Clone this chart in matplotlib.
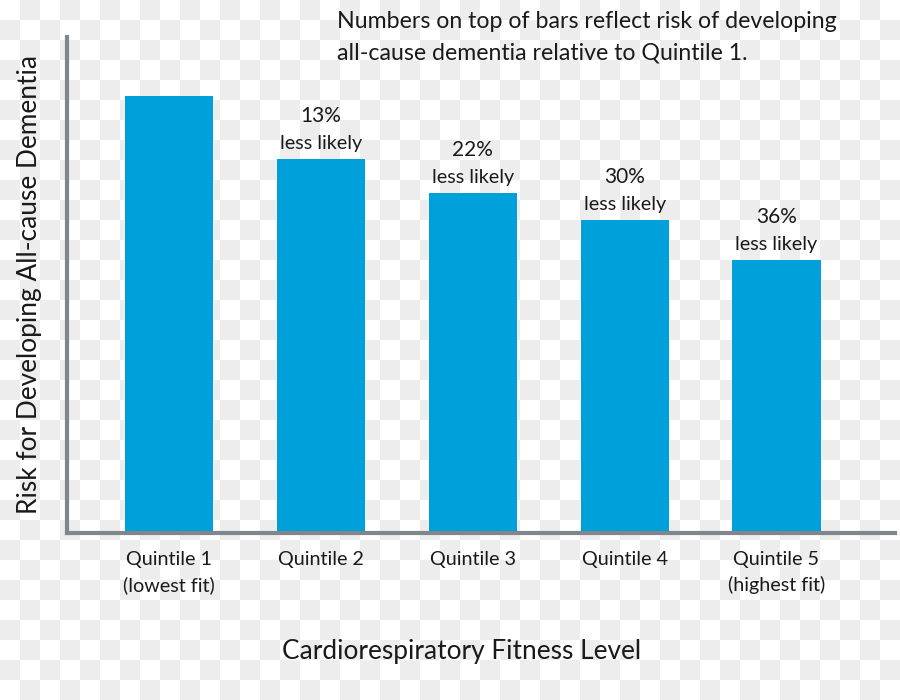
import matplotlib
matplotlib.use("Agg")
import matplotlib.pyplot as plt
import numpy as np

categories = ["Quintile 1\n(lowest fit)", "Quintile 2", "Quintile 3", "Quintile 4", "Quintile 5\n(highest fit)"]
relative_risk = [1.00, 0.855, 0.778, 0.716, 0.624]
bar_labels = ["", "13%", "22%", "30%", "36%"]

plt.rcParams['font.family'] = ['Lato', 'DejaVu Sans']

fig = plt.figure(figsize=(9, 7), dpi=100)

# checkerboard background (transparency pattern seen in reference)
bg = fig.add_axes([0, 0, 1, 1], zorder=-10)
n_x, n_y = 45, 35
cb = (np.add.outer(np.arange(n_y), np.arange(n_x)) % 2)
bg.imshow(cb, cmap=matplotlib.colors.ListedColormap(["#ffffff", "#ededed"]),
          extent=[0, 900, 700, 0], interpolation="nearest", aspect="auto")
bg.set_axis_off()

ax = fig.add_axes([67/900, 167/700, 828/900, 496/700])
ax.patch.set_alpha(0)
x = np.arange(len(categories))
ax.bar(x, relative_risk, width=0.58, color="#00a0da")
ax.set_xlim(-0.67, 4.78)
ax.set_ylim(0, 1.135)

for s in ["top", "right"]:
    ax.spines[s].set_visible(False)
for s in ["left", "bottom"]:
    ax.spines[s].set_color("#7f878c")
    ax.spines[s].set_linewidth(3)

txt = "#1a1a1a"
ax.set_yticks([])
ax.set_xticks(x)
ax.set_xticklabels(categories, fontsize=14.2, color=txt, linespacing=1.55)
ax.tick_params(axis="x", length=0, pad=13)

for xi, v, lab in zip(x, relative_risk, bar_labels):
    if lab:
        ax.annotate("less likely", (xi, v), xytext=(0, 5), textcoords="offset points",
                    ha="center", va="bottom", fontsize=14.2, color=txt)
        ax.annotate(lab, (xi, v), xytext=(0, 24), textcoords="offset points",
                    ha="center", va="bottom", fontsize=15, color=txt)

ax.set_ylabel("Risk for Developing All-cause Dementia", fontsize=18.9, color=txt)
ax.yaxis.set_label_coords((30 - 67) / 828, 0.5)
ax.yaxis.label.set_va("center")
ax.set_xlabel("Cardiorespiratory Fitness Level", fontsize=18.9, color=txt)
ax.xaxis.set_label_coords((462 - 67) / 828, -(651 - 533) / 496)
ax.xaxis.label.set_va("center")

fig.text(337/900, 1 - 22/700, "Numbers on top of bars reflect risk of developing",
         ha="left", va="center", fontsize=16.7, color=txt)
fig.text(337/900, 1 - 53/700, "all-cause dementia relative to Quintile 1.",
         ha="left", va="center", fontsize=16.7, color=txt)

fig.savefig("out.png", dpi=100)
